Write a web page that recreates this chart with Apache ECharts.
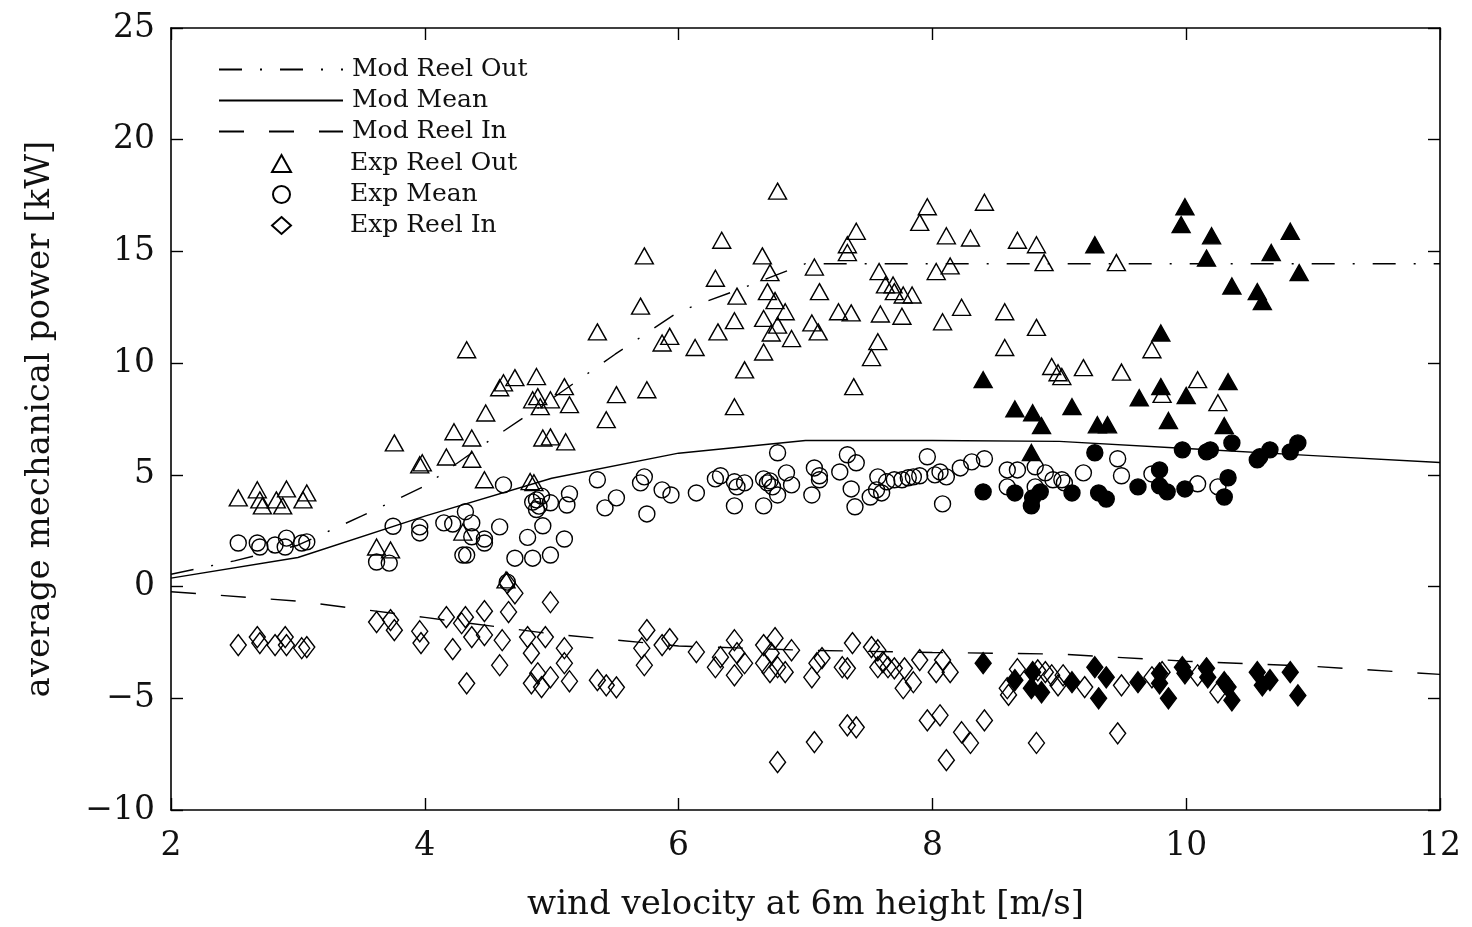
<!DOCTYPE html>
<html>
<head>
<meta charset="utf-8">
<title>average mechanical power vs wind velocity</title>
<script src="https://cdn.jsdelivr.net/npm/echarts@6/dist/echarts.min.js"></script>
<style>
  html, body { margin: 0; padding: 0; background: #fff; }
  #chart { width: 1472px; height: 927px; }
</style>
</head>
<body>
<div id="chart"></div>
<script>
// model curves
var modReelOutX = [2, 2.5, 3, 3.5, 4, 4.5, 5, 5.5, 6, 6.5, 7, 12]
var modReelOut = [0.55, 1.15, 1.85, 3.15, 4.5, 6.5, 8.4, 10.4, 12.3, 13.35, 14.45, 14.45]
var modX = [2, 3, 4, 5, 6, 7, 8, 9, 10, 11, 12]
var modMean = [0.38, 1.3, 3.15, 4.85, 5.97, 6.54, 6.54, 6.5, 6.18, 5.86, 5.55]
var modReelIn = [-0.23, -0.65, -1.38, -2.12, -2.66, -2.85, -2.95, -3.02, -3.34, -3.57, -3.93]

// experiments, open markers
var expReelOut = [
  [2.53, 3.97], [2.68, 4.33], [2.70, 3.88], [2.72, 3.61], [2.83, 3.88], [2.88, 3.61], [2.91, 4.37], [3.04, 3.88], [3.07, 4.19],
  [3.62, 1.77], [3.73, 1.64], [3.96, 5.45], [3.98, 5.54], [3.76, 6.43], [4.17, 5.8], [4.23, 6.93], [4.37, 6.65], [4.37, 5.7],
  [4.3, 2.44], [4.47, 4.78], [4.48, 7.77], [4.33, 10.6], [4.64, 0.3],
  [4.59, 8.9], [4.62, 9.12], [4.71, 9.35], [4.88, 9.4], [5.1, 8.95], [4.85, 8.36], [4.89, 8.5], [4.91, 8.05], [4.99, 8.36],
  [5.14, 8.14], [4.93, 6.65], [4.99, 6.7], [5.11, 6.48], [4.83, 4.7], [4.86, 4.65],
  [5.36, 11.4], [5.51, 8.59], [5.43, 7.47], [5.75, 8.81], [5.73, 14.8], [5.7, 12.55], [5.87, 10.9], [5.93, 11.2], [6.13, 10.7],
  [6.34, 15.5], [6.29, 13.8], [6.31, 11.4], [6.44, 11.9], [6.46, 13.0], [6.44, 8.05], [6.52, 9.7], [6.66, 14.8], [6.67, 12.0],
  [6.67, 10.5], [6.7, 13.2], [6.72, 14.05], [6.73, 11.35], [6.76, 12.8], [6.78, 11.7], [6.78, 17.7], [6.84, 12.3], [6.89, 11.1],
  [7.07, 14.3], [7.11, 13.2], [7.05, 11.8], [7.1, 11.4], [7.26, 12.3], [7.36, 12.25], [7.33, 15.3], [7.33, 14.95], [7.4, 15.9],
  [7.38, 8.95], [7.57, 10.96], [7.52, 10.25], [7.58, 14.1], [7.59, 12.2], [7.63, 13.5], [7.69, 13.5], [7.7, 13.2], [7.76, 12.1],
  [7.77, 13.05], [7.84, 13.05], [7.9, 16.3], [7.96, 17.0], [8.03, 14.1], [8.08, 11.85], [8.11, 15.7], [8.14, 14.35], [8.23, 12.5],
  [8.3, 15.6], [8.41, 17.2], [8.57, 12.3], [8.57, 10.7],
  [8.67, 15.5], [8.82, 15.3], [8.88, 14.5], [9.45, 14.5], [8.82, 11.6], [8.94, 9.85], [8.99, 9.57], [9.02, 9.4], [9.19, 9.8],
  [9.49, 9.6], [9.73, 10.6], [9.81, 8.6], [10.09, 9.26], [10.25, 8.23]
]
var expMean = [
  [2.53, 1.95], [2.68, 1.95], [2.70, 1.77], [2.82, 1.86], [2.9, 1.77], [2.91, 2.17], [3.03, 1.95], [3.07, 2.0],
  [3.62, 1.1], [3.72, 1.05], [3.75, 2.7], [3.96, 2.67], [3.96, 2.4], [4.15, 2.85], [4.22, 2.8], [4.32, 3.35], [4.3, 1.41],
  [4.33, 1.41], [4.37, 2.85], [4.37, 2.23], [4.47, 2.13], [4.47, 1.95], [4.59, 2.67], [4.62, 4.55], [4.65, 0.2], [4.71, 1.27],
  [4.81, 2.2], [4.85, 1.27], [4.88, 3.88], [4.85, 3.78], [4.9, 3.6], [4.92, 4.05], [4.88, 3.45], [4.93, 2.72], [4.99, 1.41],
  [4.99, 3.75], [5.1, 2.13], [5.12, 3.65], [5.14, 4.15], [5.36, 4.78], [5.42, 3.52],
  [5.51, 3.97], [5.7, 4.64], [5.73, 4.91], [5.75, 3.25], [5.87, 4.33], [5.94, 4.1], [6.14, 4.19], [6.29, 4.82], [6.33, 4.96],
  [6.44, 4.69], [6.46, 4.46], [6.44, 3.61], [6.52, 4.64], [6.67, 4.82], [6.7, 4.64], [6.72, 4.73], [6.74, 4.46], [6.78, 4.1],
  [6.67, 3.61], [6.78, 5.99], [6.85, 5.09], [6.89, 4.55], [7.05, 4.1], [7.07, 5.31], [7.11, 4.78], [7.11, 4.96], [7.27, 5.13],
  [7.33, 5.9], [7.4, 5.54], [7.36, 4.37], [7.39, 3.57], [7.51, 4.01], [7.57, 4.91], [7.56, 4.33], [7.6, 4.19], [7.64, 4.69],
  [7.7, 4.78], [7.76, 4.78], [7.81, 4.87], [7.85, 4.91], [7.9, 4.96], [7.96, 5.81], [8.02, 5.0], [8.06, 5.13], [8.11, 4.91],
  [8.08, 3.7], [8.22, 5.31], [8.31, 5.58], [8.41, 5.72],
  [8.59, 5.22], [8.67, 5.22], [8.59, 4.46], [8.81, 5.36], [8.89, 5.09], [8.95, 4.78], [9.02, 4.78], [9.04, 4.64], [9.19, 5.09],
  [9.46, 5.72], [9.49, 4.96], [9.73, 5.04], [10.09, 4.6], [10.25, 4.46], [8.81, 4.46]
]
var expReelIn = [
  [2.53, -2.62], [2.68, -2.26], [2.7, -2.53], [2.82, -2.62], [2.9, -2.26], [2.91, -2.62], [3.03, -2.76], [3.07, -2.71],
  [3.62, -1.59], [3.73, -1.5], [3.76, -1.95], [3.96, -2.0], [3.97, -2.53], [4.17, -1.37], [4.22, -2.8], [4.29, -1.64],
  [4.32, -1.37], [4.33, -4.33], [4.37, -2.26], [4.47, -1.1], [4.47, -2.17], [4.59, -3.52], [4.61, -2.4], [4.65, 0.16],
  [4.66, -1.14], [4.71, -0.3], [4.81, -2.26], [4.84, -2.98], [4.84, -4.33], [4.89, -3.88], [4.92, -4.5], [4.95, -2.26],
  [4.99, -0.7], [4.99, -4.06], [5.1, -2.76], [5.1, -3.43], [5.14, -4.24], [5.36, -4.19],
  [5.43, -4.42], [5.51, -4.51], [5.75, -1.95], [5.71, -2.76], [5.73, -3.52], [5.87, -2.62], [5.93, -2.35], [6.14, -2.93],
  [6.29, -3.61], [6.33, -3.16], [6.44, -2.4], [6.46, -2.98], [6.44, -3.97], [6.52, -3.43], [6.67, -2.62], [6.67, -3.43],
  [6.73, -2.98], [6.76, -2.31], [6.78, -3.61], [6.72, -3.83], [6.84, -3.83], [6.89, -2.85], [6.78, -7.86], [7.05, -4.06],
  [7.09, -3.43], [7.07, -6.96], [7.13, -3.2], [7.29, -3.61], [7.33, -3.66], [7.37, -2.53], [7.33, -6.21], [7.4, -6.3],
  [7.52, -2.71], [7.57, -2.85], [7.57, -3.61], [7.61, -3.38], [7.65, -3.61], [7.7, -3.66], [7.78, -3.66], [7.77, -4.55],
  [7.85, -4.28], [7.9, -3.29], [7.96, -5.99], [8.06, -5.76], [8.03, -3.83], [8.08, -3.29], [8.14, -3.83], [8.11, -7.77],
  [8.23, -6.52], [8.3, -7.0], [8.41, -5.99], [8.59, -4.55], [8.6, -4.85],
  [8.67, -3.7], [8.82, -7.0], [8.83, -3.75], [8.89, -3.83], [8.94, -3.97], [8.99, -4.42], [9.03, -3.97], [9.2, -4.5],
  [9.46, -6.57], [9.49, -4.42], [9.73, -4.06], [9.81, -3.83], [10.09, -3.97], [10.25, -4.73]
]

// experiments, filled markers
var expReelOutFilled = [
  [8.4, 9.26], [9.99, 17.0], [9.96, 16.2], [10.2, 15.7], [9.28, 15.3], [10.16, 14.7], [10.82, 15.9], [10.67, 14.95],
  [10.89, 14.05], [10.36, 13.45], [10.56, 13.2], [10.6, 12.75], [9.8, 11.35], [9.8, 8.95], [10.33, 9.17], [10.0, 8.55],
  [9.63, 8.45], [9.1, 8.05], [8.65, 7.95], [8.79, 7.78], [8.86, 7.2], [9.3, 7.24], [9.38, 7.24], [9.86, 7.43], [10.3, 7.2],
  [8.78, 6.0]
]
var expMeanFilled = [
  [8.4, 4.24], [8.65, 4.19], [8.79, 3.97], [8.78, 3.61], [8.85, 4.24], [9.1, 4.19], [9.28, 5.99], [9.31, 4.19], [9.37, 3.92],
  [9.62, 4.46], [9.79, 5.22], [9.79, 4.51], [9.85, 4.24], [9.97, 6.12], [9.99, 4.37], [10.16, 6.03], [10.19, 6.12],
  [10.33, 4.87], [10.3, 4.01], [10.36, 6.43], [10.56, 5.67], [10.58, 5.81], [10.66, 6.12], [10.82, 6.03], [10.88, 6.43]
]
var expReelInFilled = [
  [8.4, -3.43], [8.65, -4.19], [8.79, -3.83], [8.78, -4.55], [8.86, -4.73], [9.1, -4.28], [9.28, -3.61], [9.31, -5.0],
  [9.37, -4.06], [9.62, -4.28], [9.79, -3.88], [9.79, -4.33], [9.86, -5.0], [9.97, -3.61], [9.99, -3.88], [10.16, -3.66],
  [10.17, -4.06], [10.3, -4.28], [10.33, -4.5], [10.36, -5.09], [10.56, -3.83], [10.6, -4.42], [10.66, -4.19],
  [10.82, -3.83], [10.88, -4.87]
]

var serif = 'DejaVu Serif'

function pairs(xs, ys) {
  return xs.map(function (x, i) { return [x, ys[i]] })
}

function modelLine(name, data, dash) {
  return {
    name: name,
    type: 'line',
    data: data,
    symbol: 'none',
    z: 3,
    lineStyle: { color: '#000', width: 1.4, type: dash },
    itemStyle: { color: '#000' }
  }
}

function expScatter(name, data, symbol, size, filled) {
  return {
    name: name,
    type: 'scatter',
    data: data,
    symbol: symbol,
    symbolSize: size,
    symbolKeepAspect: true,
    z: 4,
    itemStyle: {
      color: filled ? '#000' : 'rgba(0,0,0,0)',
      borderColor: '#000',
      borderWidth: 1.4,
      opacity: 1
    }
  }
}

var chart = echarts.init(document.getElementById('chart'))

var tickLabel = {
  fontFamily: serif,
  fontSize: 33,
  color: '#111',
  formatter: function (v) { return String(v).replace('-', '\u2212') }
}

function frameAxis(extra) {
  return Object.assign({
    type: 'value',
    axisLine: { show: true, onZero: false, lineStyle: { color: '#000', width: 1.6 } },
    axisTick: { inside: true, length: 12, lineStyle: { color: '#000', width: 1.4 } },
    splitLine: { show: false }
  }, extra)
}

var hiddenSymbol = { opacity: 0 }

chart.setOption({
  backgroundColor: '#fff',
  animation: false,
  grid: { left: 171, right: 32, top: 28, bottom: 117 },
  legend: [{
    data: [
      { name: 'Mod Reel Out', itemStyle: hiddenSymbol },
      { name: 'Mod Mean', itemStyle: hiddenSymbol },
      { name: 'Mod Reel In', itemStyle: hiddenSymbol }
    ],
    orient: 'vertical',
    left: 213,
    top: 52,
    itemWidth: 124,
    itemHeight: 16,
    itemGap: 6,
    selectedMode: false,
    textStyle: { fontFamily: serif, fontSize: 25, lineHeight: 25, color: '#111', padding: [0, 0, 0, 4] }
  }, {
    data: ['Exp Reel Out', 'Exp Mean', 'Exp Reel In'],
    orient: 'vertical',
    left: 266,
    top: 146,
    itemWidth: 19,
    itemHeight: 17,
    itemGap: 6,
    symbolKeepAspect: true,
    selectedMode: false,
    textStyle: { fontFamily: serif, fontSize: 25, lineHeight: 25, color: '#111', padding: [0, 0, 0, 54] }
  }],
  xAxis: [
    frameAxis({
      min: 2, max: 12, interval: 2, position: 'bottom',
      name: 'wind velocity at 6m height [m/s]',
      nameLocation: 'middle',
      nameGap: 78,
      nameTextStyle: { fontFamily: serif, fontSize: 34, color: '#111' },
      axisLabel: Object.assign({ margin: 20 }, tickLabel)
    }),
    frameAxis({ min: 2, max: 12, interval: 2, position: 'top', axisLabel: { show: false } })
  ],
  yAxis: [
    frameAxis({
      min: -10, max: 25, interval: 5, position: 'left',
      name: 'average mechanical power [kW]',
      nameLocation: 'middle',
      nameGap: 114,
      nameTextStyle: { fontFamily: serif, fontSize: 34, color: '#111' },
      axisLabel: Object.assign({ margin: 16 }, tickLabel)
    }),
    frameAxis({ min: -10, max: 25, interval: 5, position: 'right', axisLabel: { show: false } })
  ],
  series: [
    modelLine('Mod Reel Out', pairs(modReelOutX, modReelOut), [23, 18, 2, 18]),
    modelLine('Mod Mean', pairs(modX, modMean), 'solid'),
    modelLine('Mod Reel In', pairs(modX, modReelIn), [25, 25]),
    expScatter('Exp Reel Out', expReelOut, 'triangle', [18, 16], false),
    expScatter('Exp Mean', expMean, 'circle', 16, false),
    expScatter('Exp Reel In', expReelIn, 'diamond', [16, 21], false),
    expScatter('Exp Reel Out filled', expReelOutFilled, 'triangle', [18, 16], true),
    expScatter('Exp Mean filled', expMeanFilled, 'circle', 16, true),
    expScatter('Exp Reel In filled', expReelInFilled, 'diamond', [16, 21], true)
  ]
})
</script>
</body>
</html>
